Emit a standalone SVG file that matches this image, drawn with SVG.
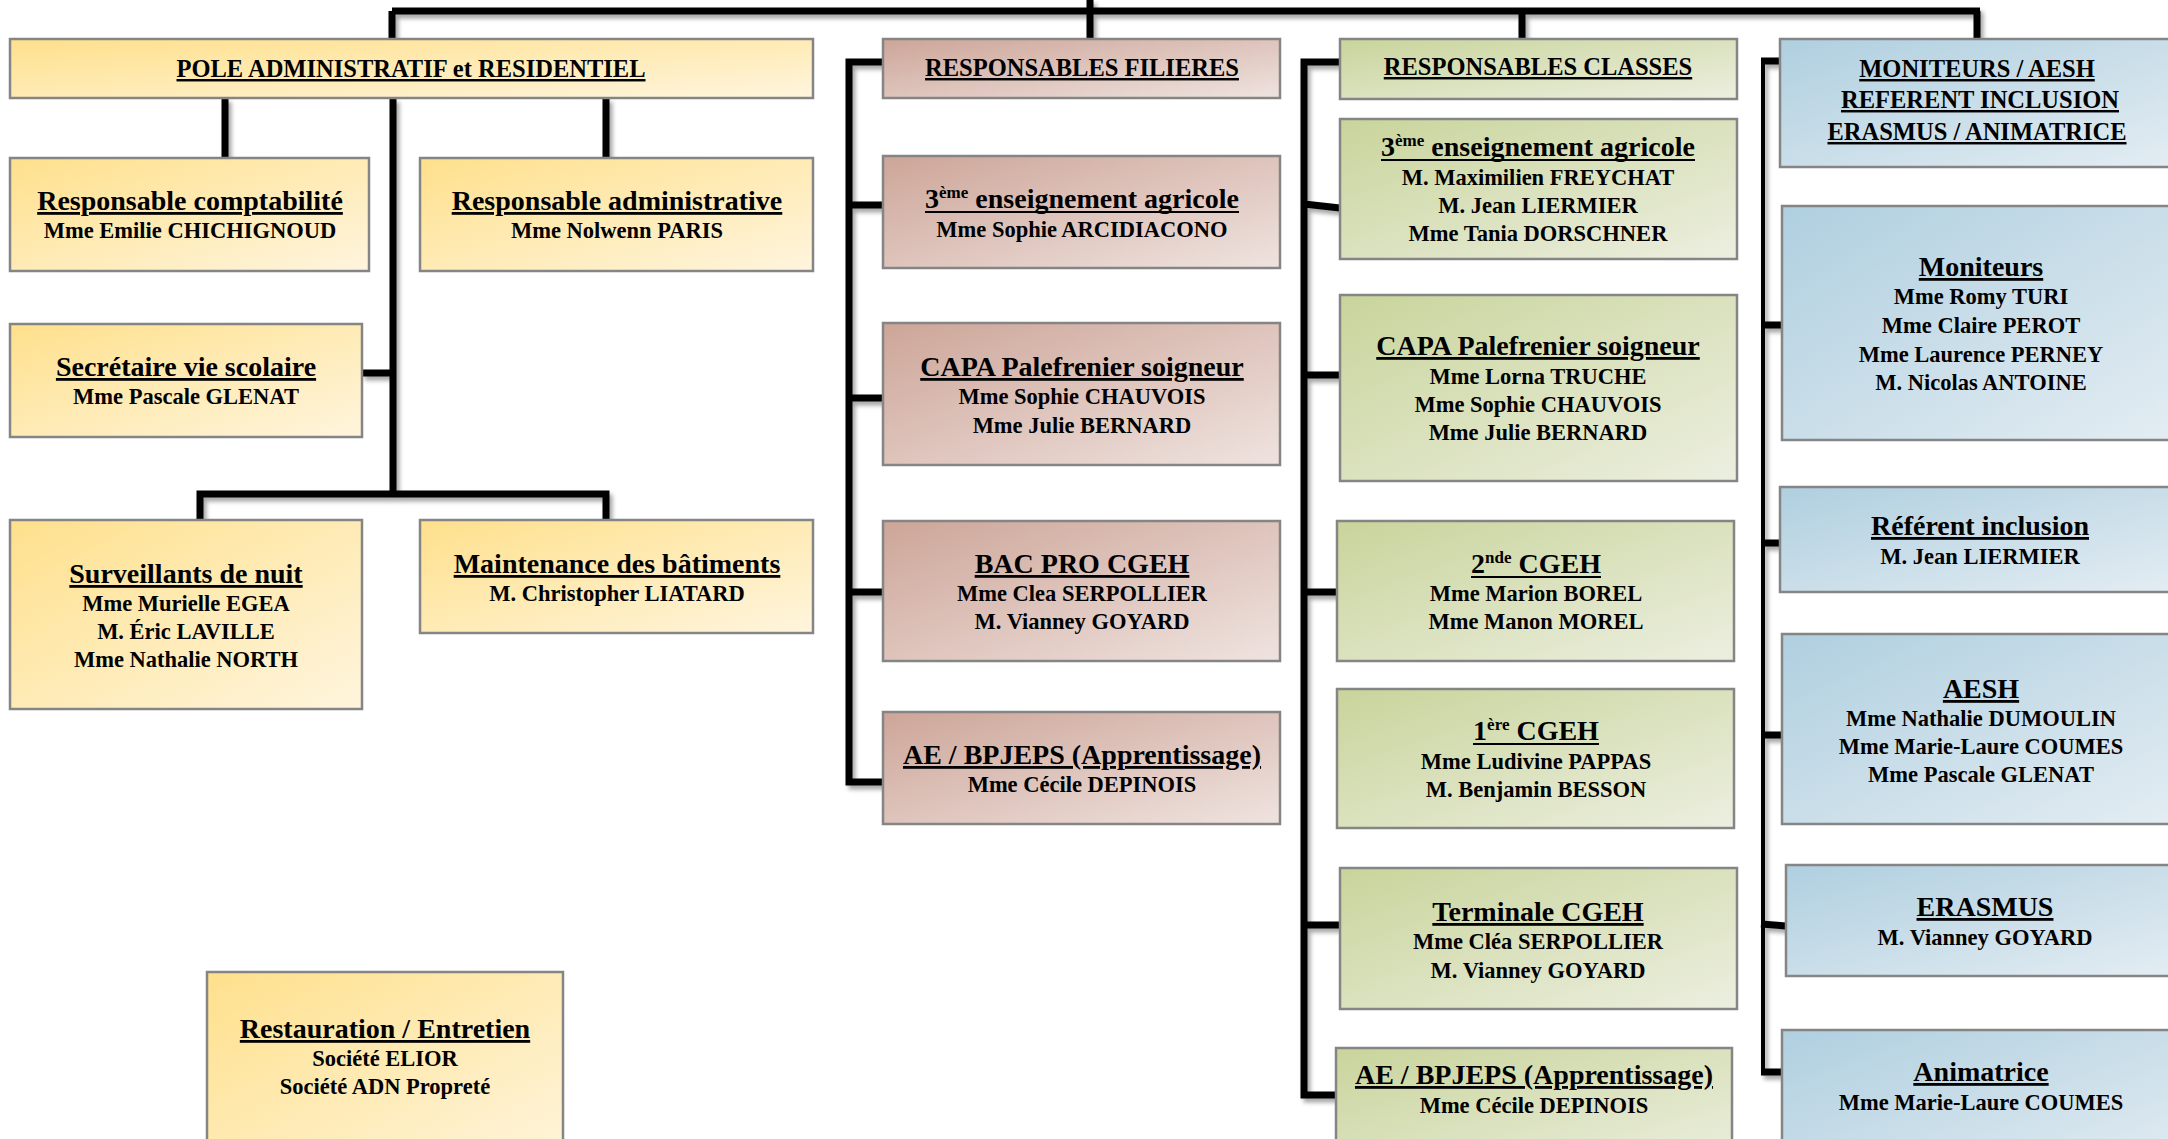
<svg xmlns="http://www.w3.org/2000/svg" width="2168" height="1139" viewBox="0 0 2168 1139">
<defs>
<linearGradient id="gy" x1="0" y1="0" x2="1" y2="1"><stop offset="0" stop-color="#FEE08C"/><stop offset="1" stop-color="#FFF5DE"/></linearGradient>
<linearGradient id="gr" x1="0" y1="0" x2="1" y2="1"><stop offset="0" stop-color="#CDA598"/><stop offset="1" stop-color="#EFE3DF"/></linearGradient>
<linearGradient id="gg" x1="0" y1="0" x2="1" y2="1"><stop offset="0" stop-color="#C9D49B"/><stop offset="1" stop-color="#ECEFE0"/></linearGradient>
<linearGradient id="gb" x1="0" y1="0" x2="1" y2="1"><stop offset="0" stop-color="#AFCFDF"/><stop offset="1" stop-color="#E4EDF3"/></linearGradient>
<filter id="sh" x="-10%" y="-10%" width="120%" height="120%"><feDropShadow dx="3" dy="4" stdDeviation="2" flood-color="#000" flood-opacity="0.35"/></filter>
</defs>
<style>
.c{fill:none;stroke:#000;stroke-width:7;stroke-linecap:butt;stroke-linejoin:miter}
.c4{stroke-width:4}
.b{stroke:#858585;stroke-width:2.5}
.y{fill:url(#gy)}.r{fill:url(#gr)}.g{fill:url(#gg)}.bl{fill:url(#gb)}
.ul{stroke:#000;stroke-width:2}
text{font-family:"Liberation Serif","Times New Roman",serif;font-weight:bold;text-anchor:middle;fill:#000}
.h{font-size:24.5px;text-decoration:underline}
.ti{font-size:28px;text-decoration:underline}
.tn{font-size:28px}
.n{font-size:22.5px}
.sup{font-size:17px}
</style>
<rect width="2168" height="1139" fill="#fff"/>
<g id="connectors" filter="url(#sh)">
<path class="c" d="M1090 0V39 M392 11H1980 M392 11V39 M1522 11V39 M1977 11V39"/>
<path class="c" d="M225 98V158 M606 98V158 M393 98V494 M362 373H393 M200 520V494H606V520"/>
<path class="c" d="M884 62H849V782H884 M849 205H884 M849 398H884 M849 592H884"/>
<path class="c" d="M1340 62H1304V1095H1336 M1304 204L1340 208 M1304 375H1340 M1304 592H1337 M1304 925H1340"/>
<path class="c c4" d="M1763 61V1071"/>
<path class="c" d="M1761 61H1787 M1761 325H1782 M1761 543H1780 M1761 735H1782 M1761 924L1786 926 M1761 1072H1782"/>
</g>
<g id="pole"><rect class="b y" x="10" y="39" width="803" height="59"/><text class="h" x="411" y="77">POLE ADMINISTRATIF et RESIDENTIEL</text></g>
<g id="compta"><rect class="b y" x="10" y="158" width="359" height="113"/><text class="ti" x="190" y="210">Responsable comptabilité</text><text class="n" x="190" y="238">Mme Emilie CHICHIGNOUD</text></g>
<g id="admin"><rect class="b y" x="420" y="158" width="393" height="113"/><text class="ti" x="617" y="210">Responsable administrative</text><text class="n" x="617" y="238">Mme Nolwenn PARIS</text></g>
<g id="secretaire"><rect class="b y" x="10" y="324" width="352" height="113"/><text class="ti" x="186" y="376">Secrétaire vie scolaire</text><text class="n" x="186" y="404">Mme Pascale GLENAT</text></g>
<g id="surveillants"><rect class="b y" x="10" y="520" width="352" height="189"/><text class="ti" x="186" y="583">Surveillants de nuit</text><text class="n" x="186" y="611">Mme Murielle EGEA</text><text class="n" x="186" y="639">M. Éric LAVILLE</text><text class="n" x="186" y="667">Mme Nathalie NORTH</text></g>
<g id="maintenance"><rect class="b y" x="420" y="520" width="393" height="113"/><text class="ti" x="617" y="573">Maintenance des bâtiments</text><text class="n" x="617" y="601">M. Christopher LIATARD</text></g>
<g id="restauration"><rect class="b y" x="207" y="972" width="356" height="200"/><text class="ti" x="385" y="1038">Restauration / Entretien</text><text class="n" x="385" y="1066">Société ELIOR</text><text class="n" x="385" y="1094">Société ADN Propreté</text></g>
<g id="filieres"><rect class="b r" x="883" y="39" width="397" height="59"/><text class="h" x="1082" y="76">RESPONSABLES FILIERES</text></g>
<g id="fil-3eme"><rect class="b r" x="883" y="156" width="397" height="112"/><text class="tn" x="1082" y="208">3<tspan class="sup" dy="-10">ème</tspan><tspan dy="10"> enseignement agricole</tspan></text><line class="ul" x1="925" y1="212" x2="1239" y2="212"/><text class="n" x="1082" y="237">Mme Sophie ARCIDIACONO</text></g>
<g id="fil-capa"><rect class="b r" x="883" y="323" width="397" height="142"/><text class="ti" x="1082" y="376">CAPA Palefrenier soigneur</text><text class="n" x="1082" y="404">Mme Sophie CHAUVOIS</text><text class="n" x="1082" y="433">Mme Julie BERNARD</text></g>
<g id="fil-bac"><rect class="b r" x="883" y="521" width="397" height="140"/><text class="ti" x="1082" y="573">BAC PRO CGEH</text><text class="n" x="1082" y="601">Mme Clea SERPOLLIER</text><text class="n" x="1082" y="629">M. Vianney GOYARD</text></g>
<g id="fil-ae"><rect class="b r" x="883" y="712" width="397" height="112"/><text class="ti" x="1082" y="764">AE / BPJEPS (Apprentissage)</text><text class="n" x="1082" y="792">Mme Cécile DEPINOIS</text></g>
<g id="classes"><rect class="b g" x="1340" y="39" width="397" height="60"/><text class="h" x="1538" y="75">RESPONSABLES CLASSES</text></g>
<g id="cl-3eme"><rect class="b g" x="1340" y="119" width="397" height="140"/><text class="tn" x="1538" y="156">3<tspan class="sup" dy="-10">ème</tspan><tspan dy="10"> enseignement agricole</tspan></text><line class="ul" x1="1381" y1="160" x2="1695" y2="160"/><text class="n" x="1538" y="185">M. Maximilien FREYCHAT</text><text class="n" x="1538" y="213">M. Jean LIERMIER</text><text class="n" x="1538" y="241">Mme Tania DORSCHNER</text></g>
<g id="cl-capa"><rect class="b g" x="1340" y="295" width="397" height="186"/><text class="ti" x="1538" y="355">CAPA Palefrenier soigneur</text><text class="n" x="1538" y="384">Mme Lorna TRUCHE</text><text class="n" x="1538" y="412">Mme Sophie CHAUVOIS</text><text class="n" x="1538" y="440">Mme Julie BERNARD</text></g>
<g id="cl-2nde"><rect class="b g" x="1337" y="521" width="397" height="140"/><text class="tn" x="1536" y="573">2<tspan class="sup" dy="-10">nde</tspan><tspan dy="10"> CGEH</tspan></text><line class="ul" x1="1471" y1="577" x2="1601" y2="577"/><text class="n" x="1536" y="601">Mme Marion BOREL</text><text class="n" x="1536" y="629">Mme Manon MOREL</text></g>
<g id="cl-1ere"><rect class="b g" x="1337" y="689" width="397" height="139"/><text class="tn" x="1536" y="740">1<tspan class="sup" dy="-10">ère</tspan><tspan dy="10"> CGEH</tspan></text><line class="ul" x1="1473" y1="744" x2="1599" y2="744"/><text class="n" x="1536" y="769">Mme Ludivine PAPPAS</text><text class="n" x="1536" y="797">M. Benjamin BESSON</text></g>
<g id="cl-term"><rect class="b g" x="1340" y="868" width="397" height="141"/><text class="ti" x="1538" y="921">Terminale CGEH</text><text class="n" x="1538" y="949">Mme Cléa SERPOLLIER</text><text class="n" x="1538" y="978">M. Vianney GOYARD</text></g>
<g id="cl-ae"><rect class="b g" x="1336" y="1048" width="396" height="120"/><text class="ti" x="1534" y="1084">AE / BPJEPS (Apprentissage)</text><text class="n" x="1534" y="1113">Mme Cécile DEPINOIS</text></g>
<g id="moniteurs-aesh"><rect class="b bl" x="1780" y="39" width="400" height="128"/><text class="h" x="1977" y="77">MONITEURS / AESH</text><text class="h" x="1980" y="108">REFERENT INCLUSION</text><text class="h" x="1977" y="140">ERASMUS / ANIMATRICE</text></g>
<g id="moniteurs"><rect class="b bl" x="1782" y="206" width="398" height="234"/><text class="ti" x="1981" y="276">Moniteurs</text><text class="n" x="1981" y="304">Mme Romy TURI</text><text class="n" x="1981" y="333">Mme Claire PEROT</text><text class="n" x="1981" y="362">Mme Laurence PERNEY</text><text class="n" x="1981" y="390">M. Nicolas ANTOINE</text></g>
<g id="referent"><rect class="b bl" x="1780" y="487" width="400" height="105"/><text class="ti" x="1980" y="535">Référent inclusion</text><text class="n" x="1980" y="564">M. Jean LIERMIER</text></g>
<g id="aesh"><rect class="b bl" x="1782" y="634" width="398" height="190"/><text class="ti" x="1981" y="698">AESH</text><text class="n" x="1981" y="726">Mme Nathalie DUMOULIN</text><text class="n" x="1981" y="754">Mme Marie-Laure COUMES</text><text class="n" x="1981" y="782">Mme Pascale GLENAT</text></g>
<g id="erasmus"><rect class="b bl" x="1786" y="865" width="394" height="111"/><text class="ti" x="1985" y="916">ERASMUS</text><text class="n" x="1985" y="945">M. Vianney GOYARD</text></g>
<g id="animatrice"><rect class="b bl" x="1782" y="1030" width="398" height="150"/><text class="ti" x="1981" y="1081">Animatrice</text><text class="n" x="1981" y="1110">Mme Marie-Laure COUMES</text></g>
</svg>
